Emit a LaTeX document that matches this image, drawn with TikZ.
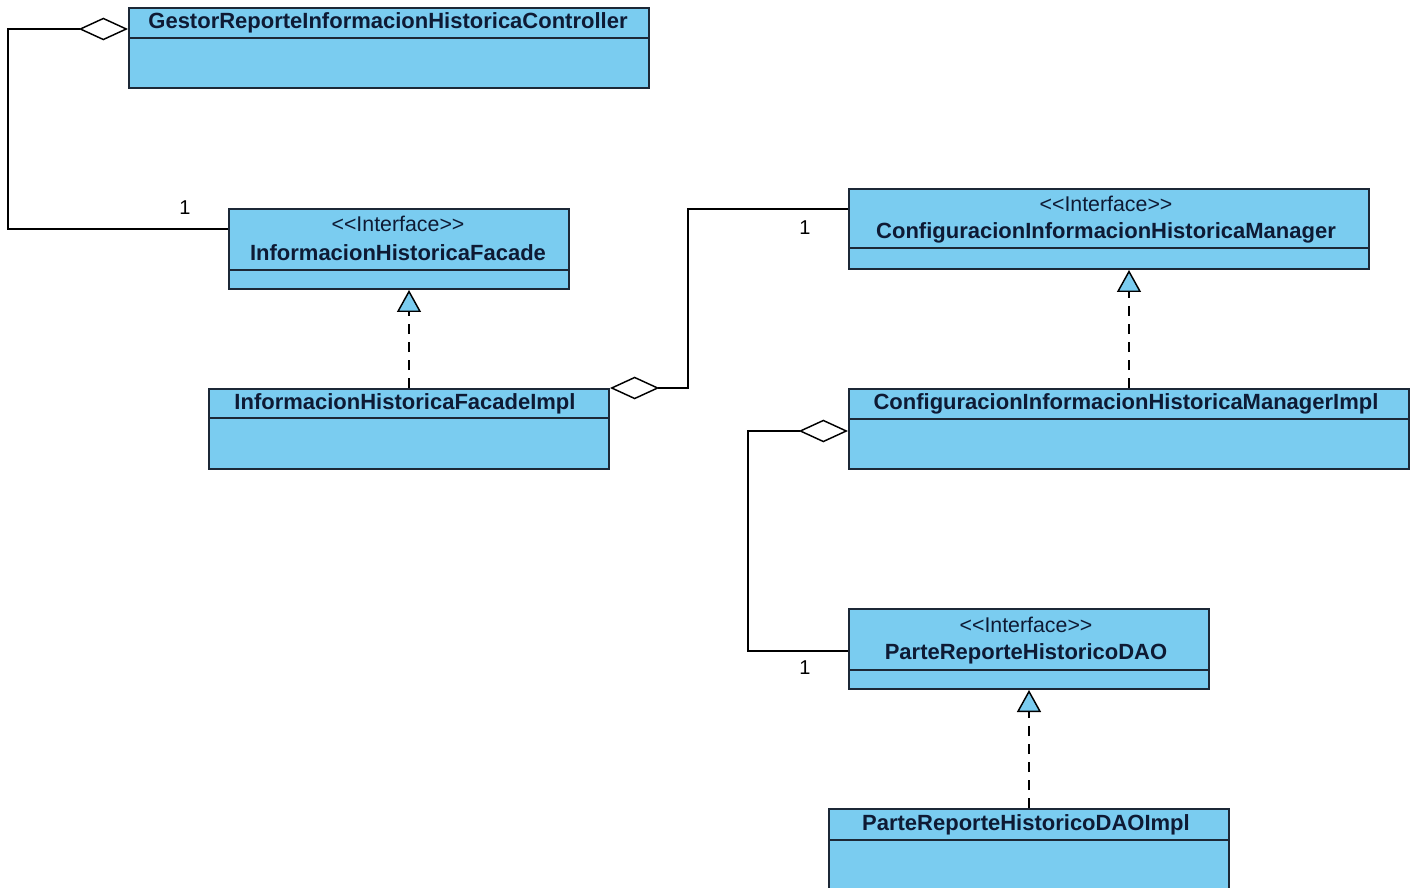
\documentclass[tikz,border=0pt]{standalone}
\usepackage{fontspec}
\setmainfont{Liberation Sans}
\usetikzlibrary{arrows.meta,calc}
\definecolor{classfill}{RGB}{122,204,240}
\definecolor{classborder}{RGB}{28,40,54}
\definecolor{classtext}{RGB}{14,26,52}
\newcommand{\ifacestereo}{<\kern0pt<Interface>\kern0pt>}
\tikzset{
  classbox/.style={draw=classborder, fill=classfill, line width=1.5pt, inner sep=0pt, anchor=north west},
  sepline/.style={draw=classborder, line width=1.2pt},
  cname/.style={text=classtext, font=\fontsize{16.5}{18}\selectfont\bfseries, inner sep=0pt},
  stereo/.style={text=classtext, font=\fontsize{16}{18}\selectfont, inner sep=0pt},
  mult/.style={text=black, font=\fontsize{15}{17}\selectfont, inner sep=0pt},
  agg/.style={draw=black, line width=1.1pt, -{Diamond[length=37pt,width=17pt,fill=white,line width=1.1pt]}},
  real/.style={draw=black, line width=1.1pt, dash pattern=on 7.5pt off 6pt, -{Triangle[length=16.5pt,width=18pt,fill=classfill,line width=1.1pt]}},
}
\begin{document}
\begin{tikzpicture}[x=0.75pt,y=-0.75pt]
\useasboundingbox (0,0) rectangle (1415,888);
\clip (0,0) rectangle (1415,888);
\fill[white] (0,0) rectangle (1415,888);

% Gestor
\node[classbox, minimum width=390pt, minimum height=60pt] (g) at (128,7) {};
\draw[sepline] (128,38) -- (648,38);
\node[cname] (gn) at (388,22.5) {GestorReporteInformacionHistoricaController};

% Facade
\node[classbox, minimum width=255pt, minimum height=60pt] (f) at (228,208) {};
\draw[sepline] (228,270) -- (568,270);
\node[stereo] (fs) at (398,224) {\ifacestereo};
\node[cname] (fn) at (398,253) {InformacionHistoricaFacade};

% FacadeImpl
\node[classbox, minimum width=300pt, minimum height=60pt] (fi) at (208,388) {};
\draw[sepline] (208,418) -- (608,418);
\node[cname] (fin) at (405,404) {InformacionHistoricaFacadeImpl};

% Manager
\node[classbox, minimum width=390pt, minimum height=60pt] (m) at (848,188) {};
\draw[sepline] (848,248) -- (1368,248);
\node[stereo] (ms) at (1106,204) {\ifacestereo};
\node[cname] (mn) at (1106,233) {ConfiguracionInformacionHistoricaManager};

% ManagerImpl
\node[classbox, minimum width=420pt, minimum height=60pt] (mi) at (848,388) {};
\draw[sepline] (848,419) -- (1408,419);
\node[cname] (min) at (1126,404) {ConfiguracionInformacionHistoricaManagerImpl};

% DAO
\node[classbox, minimum width=270pt, minimum height=60pt] (d) at (848,608) {};
\draw[sepline] (848,670) -- (1208,670);
\node[stereo] (ds) at (1026,625) {\ifacestereo};
\node[cname] (dn) at (1026,654) {ParteReporteHistoricoDAO};

% DAOImpl
\node[classbox, minimum width=300pt, minimum height=75pt] (di) at (828,808) {};
\draw[sepline] (828,840) -- (1228,840);
\node[cname] (din) at (1026,825) {ParteReporteHistoricoDAOImpl};

% aggregations
\draw[agg] ([yshift=15pt]f.west) -- ++(-220,0) |- ([yshift=14.25pt]g.west);
\draw[agg] ([yshift=15pt]m.west) -- ++(-160,0) |- (fi.north east);
\draw[agg] ([yshift=-1.5pt]d.west) -- ++(-100,0) |- ([yshift=-1.5pt]mi.west);

% realizations
\draw[real] (fi.north) -- (fi.north |- f.south);
\draw[real] (mi.north) -- (mi.north |- m.south);
\draw[real] (di.north) -- (di.north |- d.south);

% multiplicities
\node[mult] (m1) at (185,208) {1};
\node[mult] (m2) at (805,228) {1};
\node[mult] (m3) at (805,668) {1};
\end{tikzpicture}
\end{document}
